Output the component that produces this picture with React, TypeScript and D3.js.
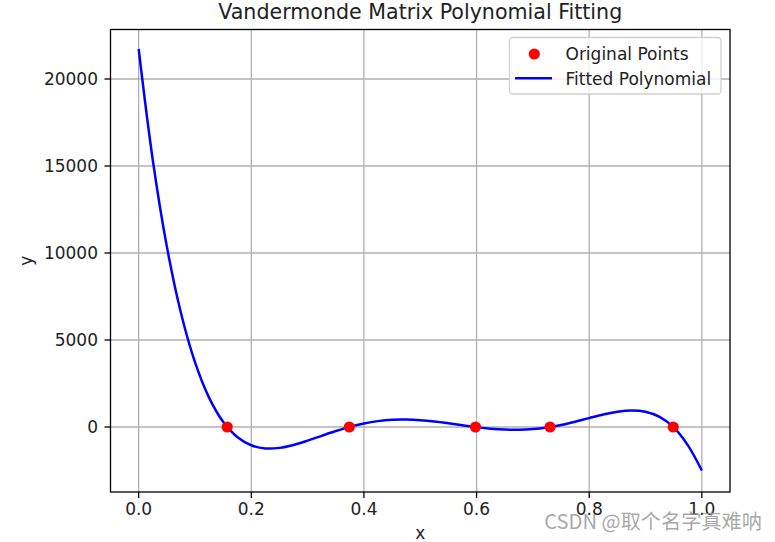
import React from "react";
import * as d3 from "d3";

const pointX = [0.1572, 0.3741, 0.5981, 0.7305, 0.9492];
const pointY = [0, 0, 0, 0, 0];

const curveX = [
  0, 0.025, 0.05, 0.075, 0.1, 0.125, 0.15, 0.175, 0.2, 0.225, 0.25, 0.275, 0.3, 0.325, 0.35,
  0.375, 0.4, 0.425, 0.45, 0.475, 0.5, 0.525, 0.55, 0.575, 0.6, 0.625, 0.65, 0.675, 0.7, 0.725,
  0.75, 0.775, 0.8, 0.825, 0.85, 0.875, 0.9, 0.925, 0.95, 0.975, 1.0,
];
const curveY = [
  21724, 15361, 10380, 6565, 3725, 1687, 299, -574, -1050, -1230, -1200, -1032, -785, -507, -234,
  8, 201, 337, 411, 426, 390, 315, 213, 100, -8, -96, -151, -162, -122, -28,
  117, 303, 511, 714, 877, 951, 876, 580, -25, -1041, -2500,
];

const xTicks = [0.0, 0.2, 0.4, 0.6, 0.8, 1.0];
const yTicks = [0, 5000, 10000, 15000, 20000];

const title = "Vandermonde Matrix Polynomial Fitting";
const xLabel = "x";
const yLabel = "y";
const legendLabels = ["Original Points", "Fitted Polynomial"];
const watermark = "CSDN @取个名字真难呐";

export default function App() {
  const W = 775;
  const H = 542;
  const left = 110.5;
  const right = 730;
  const top = 29.5;
  const bottom = 492;
  const x = d3.scaleLinear().domain([-0.05, 1.05]).range([left, right]);
  const y = d3.scaleLinear().domain([-3736, 22845]).range([bottom, top]);
  const font = "'DejaVu Sans', sans-serif";
  const fs = 17;
  const tick = 6;

  const line = d3
    .line<number>()
    .x((_, i) => x(curveX[i]))
    .y((d) => y(d))
    .curve(d3.curveCatmullRom.alpha(0.5));

  return (
    <svg
      width={W}
      height={H}
      style={{ position: "absolute", left: 0, top: 0, background: "#fff" }}
      fontFamily={font}
    >
      <rect x={0} y={0} width={W} height={H} fill="#fff" />
      <defs>
        <clipPath id="plotClip">
          <rect x={left} y={top} width={right - left} height={bottom - top} />
        </clipPath>
      </defs>
      {/* grid */}
      <g stroke="#b0b0b0" strokeWidth={1.3}>
        {xTicks.map((t) => (
          <line key={"gx" + t} x1={x(t)} x2={x(t)} y1={top} y2={bottom} />
        ))}
        {yTicks.map((t) => (
          <line key={"gy" + t} x1={left} x2={right} y1={y(t)} y2={y(t)} />
        ))}
      </g>
      {/* curve and points */}
      <g clipPath="url(#plotClip)">
        <path d={line(curveY) || ""} fill="none" stroke="#0000ff" strokeWidth={2.5} />
        {pointX.map((px, i) => (
          <circle key={"p" + i} cx={x(px)} cy={y(pointY[i])} r={5.6} fill="#ff0000" />
        ))}
      </g>
      {/* spines */}
      <rect
        x={left}
        y={top}
        width={right - left}
        height={bottom - top}
        fill="none"
        stroke="#000"
        strokeWidth={1.3}
      />
      {/* x ticks */}
      {xTicks.map((t) => (
        <g key={"xt" + t}>
          <line x1={x(t)} x2={x(t)} y1={bottom} y2={bottom + tick} stroke="#000" strokeWidth={1.3} />
          <text x={x(t)} y={515} fontSize={fs} textAnchor="middle" fill="#222">
            {t.toFixed(1)}
          </text>
        </g>
      ))}
      {/* y ticks */}
      {yTicks.map((t) => (
        <g key={"yt" + t}>
          <line x1={left - tick} x2={left} y1={y(t)} y2={y(t)} stroke="#000" strokeWidth={1.3} />
          <text x={98} y={y(t)} dy="0.36em" fontSize={fs} textAnchor="end" fill="#222">
            {String(t)}
          </text>
        </g>
      ))}
      {/* axis labels */}
      <text x={(left + right) / 2} y={539} fontSize={fs} textAnchor="middle" fill="#222">
        {xLabel}
      </text>
      <text
        transform={`translate(32, ${(top + bottom) / 2}) rotate(-90)`}
        fontSize={fs}
        textAnchor="middle"
        fill="#222"
      >
        {yLabel}
      </text>
      <text x={(left + right) / 2} y={19} fontSize={20.6} textAnchor="middle" fill="#222">
        {title}
      </text>
      {/* legend */}
      <g>
        <rect
          x={509.5}
          y={37.5}
          width={211.5}
          height={56.5}
          rx={3.5}
          ry={3.5}
          fill="#fff"
          fillOpacity={0.8}
          stroke="#d0d0d0"
          strokeWidth={1.3}
        />
        <circle cx={534.3} cy={54} r={5.6} fill="#ff0000" />
        <text x={565.5} y={60} fontSize={fs} fill="#222">
          {legendLabels[0]}
        </text>
        <line x1={515} x2={552} y1={78.3} y2={78.3} stroke="#0000ff" strokeWidth={2.5} />
        <text x={565.5} y={84.5} fontSize={fs} fill="#222">
          {legendLabels[1]}
        </text>
      </g>
      {/* watermark */}
      <text
        x={762}
        y={529}
        fontSize={20.2}
        textAnchor="end"
        fill="#999999"
        fillOpacity={0.85}
        fontFamily="'Noto Sans CJK SC', 'DejaVu Sans', sans-serif"
      >
        {watermark}
      </text>
    </svg>
  );
}
